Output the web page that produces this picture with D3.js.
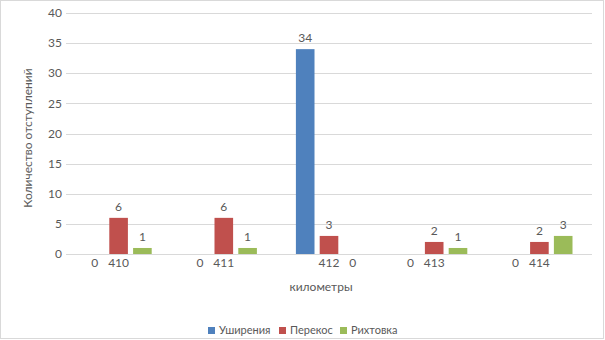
<!DOCTYPE html>
<html><head><meta charset="utf-8">
<script src="https://cdn.jsdelivr.net/npm/d3@7"></script>
<style>body{margin:0;background:#fff}svg{display:block}text{font-family:Lato,"Open Sans",sans-serif;fill:#595959}</style>
</head><body><svg id="c" width="605" height="340"></svg>
<script>
const categories = ["410","411","412","413","414"];
const seriesNames = ["Уширения","Перекос","Рихтовка"];
const widening = [0,0,34,0,0];
const skew = [6,6,3,2,2];
const alignment = [1,1,0,1,3];
const yTicks = [0,5,10,15,20,25,30,35,40];
const colors = ["#4F81BD","#C0504D","#9BBB59"];
const series = [widening, skew, alignment];

const svg = d3.select("#c");
svg.append("rect").attr("x",0.5).attr("y",0.5).attr("width",603).attr("height",338)
  .attr("fill","#fff").attr("stroke","#d9d9d9");

const L=66, R=592, T=13, B=254;
const x0 = d3.scaleBand().domain(categories).range([L,R]).padding(0);
const groupW = 66.2;
const x1 = d3.scaleBand().domain(d3.range(3)).range([0,groupW]).paddingInner(0.218).paddingOuter(0);
const y = d3.scaleLinear().domain([0,40]).range([B,T]);

// gridlines
svg.append("g").selectAll("line").data(yTicks).join("line")
  .attr("x1",L).attr("x2",R).attr("y1",d=>Math.round(y(d))+0.5).attr("y2",d=>Math.round(y(d))+0.5)
  .attr("stroke","#d9d9d9").attr("stroke-width",1);

// y tick labels
svg.append("g").selectAll("text").data(yTicks).join("text")
  .attr("x",62).attr("y",d=>y(d)).attr("dy","0.35em").attr("text-anchor","end")
  .attr("font-size",12).text(d=>d);

// bars
const gOff = c => x0(c) + x0.bandwidth()/2 - groupW/2;
series.forEach((vals,si)=>{
  const g = svg.append("g");
  g.selectAll("rect").data(vals.map((v,i)=>({c:categories[i],v}))).join("rect")
    .attr("x",d=>gOff(d.c)+x1(si)).attr("width",x1.bandwidth())
    .attr("y",d=>y(d.v)).attr("height",d=>y(0)-y(d.v)).attr("fill",colors[si]);
  g.selectAll("text").data(vals.map((v,i)=>({c:categories[i],v}))).join("text")
    .attr("x",d=>gOff(d.c)+x1(si)+x1.bandwidth()/2)
    .attr("y",d=>d.v>0 ? y(d.v)-11 : y(0)+9)
    .attr("dy","0.35em").attr("text-anchor","middle").attr("font-size",12).text(d=>d.v);
});

// category labels
svg.append("g").selectAll("text").data(categories).join("text")
  .attr("x",d=>x0(d)+x0.bandwidth()/2).attr("y",y(0)+9).attr("dy","0.35em")
  .attr("text-anchor","middle").attr("font-size",12).text(d=>d);

// axis titles
svg.append("text").attr("x",321).attr("y",287).attr("dy","0.35em").attr("text-anchor","middle")
  .attr("font-size",12).text("километры");
svg.append("text").attr("transform","translate(28,138) rotate(-90)").attr("dy","0.35em")
  .attr("text-anchor","middle").attr("font-size",12).text("Количество отступлений");

// legend
const legX = [208,279,340];
const lg = svg.append("g");
seriesNames.forEach((n,i)=>{
  lg.append("rect").attr("x",legX[i]).attr("y",327).attr("width",7).attr("height",7).attr("fill",colors[i]);
  lg.append("text").attr("x",legX[i]+11).attr("y",330.5).attr("dy","0.35em").attr("font-size",11).text(n);
});
</script></body></html>
